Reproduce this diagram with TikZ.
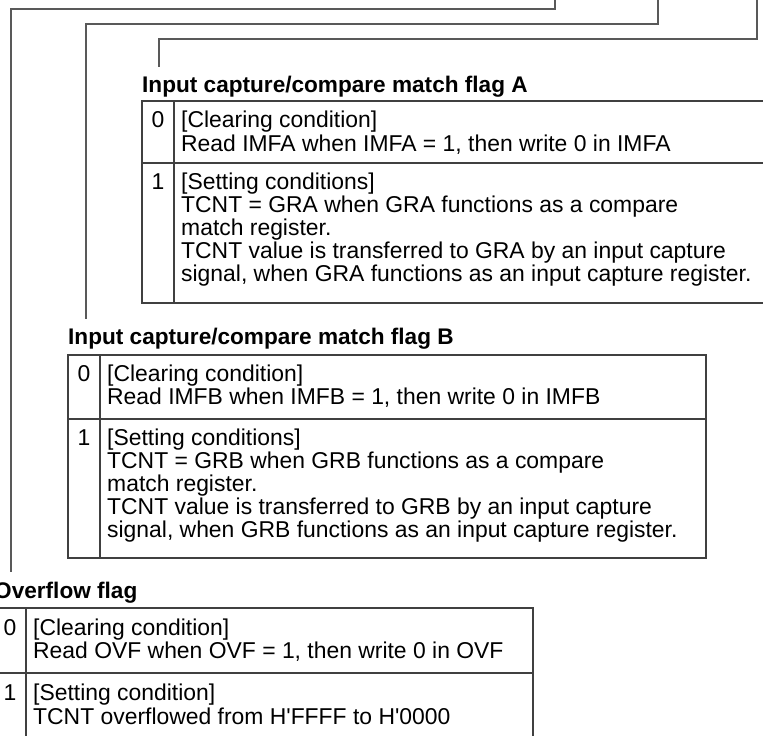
\documentclass[tikz,border=0pt]{standalone}
\usepackage{fontspec}
\setmainfont{Liberation Sans}
\usetikzlibrary{positioning}

\begin{document}
\begin{tikzpicture}[
    x=1pt, y=-1pt,
    every node/.style={inner sep=0pt, font=\fontsize{22.9}{23}\selectfont},
    flagtitle/.style={anchor=base west, font=\fontsize{22.6}{23}\selectfont\bfseries},
    cond/.style={anchor=base west},
    bitval/.style={anchor=base},
    rule/.style={draw=black!75, line width=1.2pt},
    leader/.style={draw=black!65, line width=1.2pt}
]
\clip (0,0) rectangle (763,736);

% flag A
\node[flagtitle] (titleA) at (142,92) {Input capture/compare match flag A};
\draw[rule] (142,101) rectangle (780,303);
\draw[rule] (174,101) -- (174,303);
\draw[rule] (142,163) -- (780,163);
\node[bitval] (a0) at (158,127) {0};
\node[cond] (a0head) at (181,127) {[Clearing condition]};
\node[cond] (a0text) at (181,151) {Read IMFA when IMFA = 1, then write 0 in IMFA};
\node[bitval] (a1) at (158,189) {1};
\node[cond] (a1head) at (181,189) {[Setting conditions]};
\node[cond] (a1text) at (181,212) {TCNT = GRA when GRA functions as a compare};
\node[cond] (a1more) at (181,235) {match register.};
\node[cond] (a1cap) at (181,258) {TCNT value is transferred to GRA by an input capture};
\node[cond] (a1last) at (181,281) {signal, when GRA functions as an input capture register.};

% flag B
\node[flagtitle] (titleB) at (68,344) {Input capture/compare match flag B};
\draw[rule] (68,355) rectangle (706,558);
\draw[rule] (100,355) -- (100,558);
\draw[rule] (68,419) -- (706,419);
\node[bitval] (b0) at (84,381) {0};
\node[cond] (b0head) at (107,381) {[Clearing condition]};
\node[cond] (b0text) at (107,404) {Read IMFB when IMFB = 1, then write 0 in IMFB};
\node[bitval] (b1) at (84,445) {1};
\node[cond] (b1head) at (107,445) {[Setting conditions]};
\node[cond] (b1text) at (107,468) {TCNT = GRB when GRB functions as a compare};
\node[cond] (b1more) at (107,491) {match register.};
\node[cond] (b1cap) at (107,514) {TCNT value is transferred to GRB by an input capture};
\node[cond] (b1last) at (107,537) {signal, when GRB functions as an input capture register.};

% overflow flag
\node[flagtitle] (titleOvf) at (-6,598) {Overflow flag};
\draw[rule] (533,745) -- (533,608) -- (-6,608) -- (-6,745);
\draw[rule] (26,608) -- (26,745);
\draw[rule] (-6,673) -- (533,673);
\node[bitval] (o0) at (10,635) {0};
\node[cond] (o0head) at (33,635) {[Clearing condition]};
\node[cond] (o0text) at (33,658) {Read OVF when OVF = 1, then write 0 in OVF};
\node[bitval] (o1) at (10,700) {1};
\node[cond] (o1head) at (33,700) {[Setting condition]};
\node[cond] (o1text) at (33,724) {TCNT overflowed from H\textquotesingle FFFF to H\textquotesingle 0000};

% leaders from the register bits
\coordinate (srcA) at (757,-2);
\coordinate (bendA) at (159,39);
\coordinate (endA) at (159,67);
\coordinate (srcB) at (658,-2);
\coordinate (bendB) at (86,24);
\coordinate (endB) at (86,319);
\coordinate (srcOvf) at (555,-2);
\coordinate (bendOvf) at (11,9);
\coordinate (endOvf) at (11,572);
\draw[leader] (srcA) |- (bendA) -- (endA);
\draw[leader] (srcB) |- (bendB) -- (endB);
\draw[leader] (srcOvf) |- (bendOvf) -- (endOvf);

\end{tikzpicture}
\end{document}
